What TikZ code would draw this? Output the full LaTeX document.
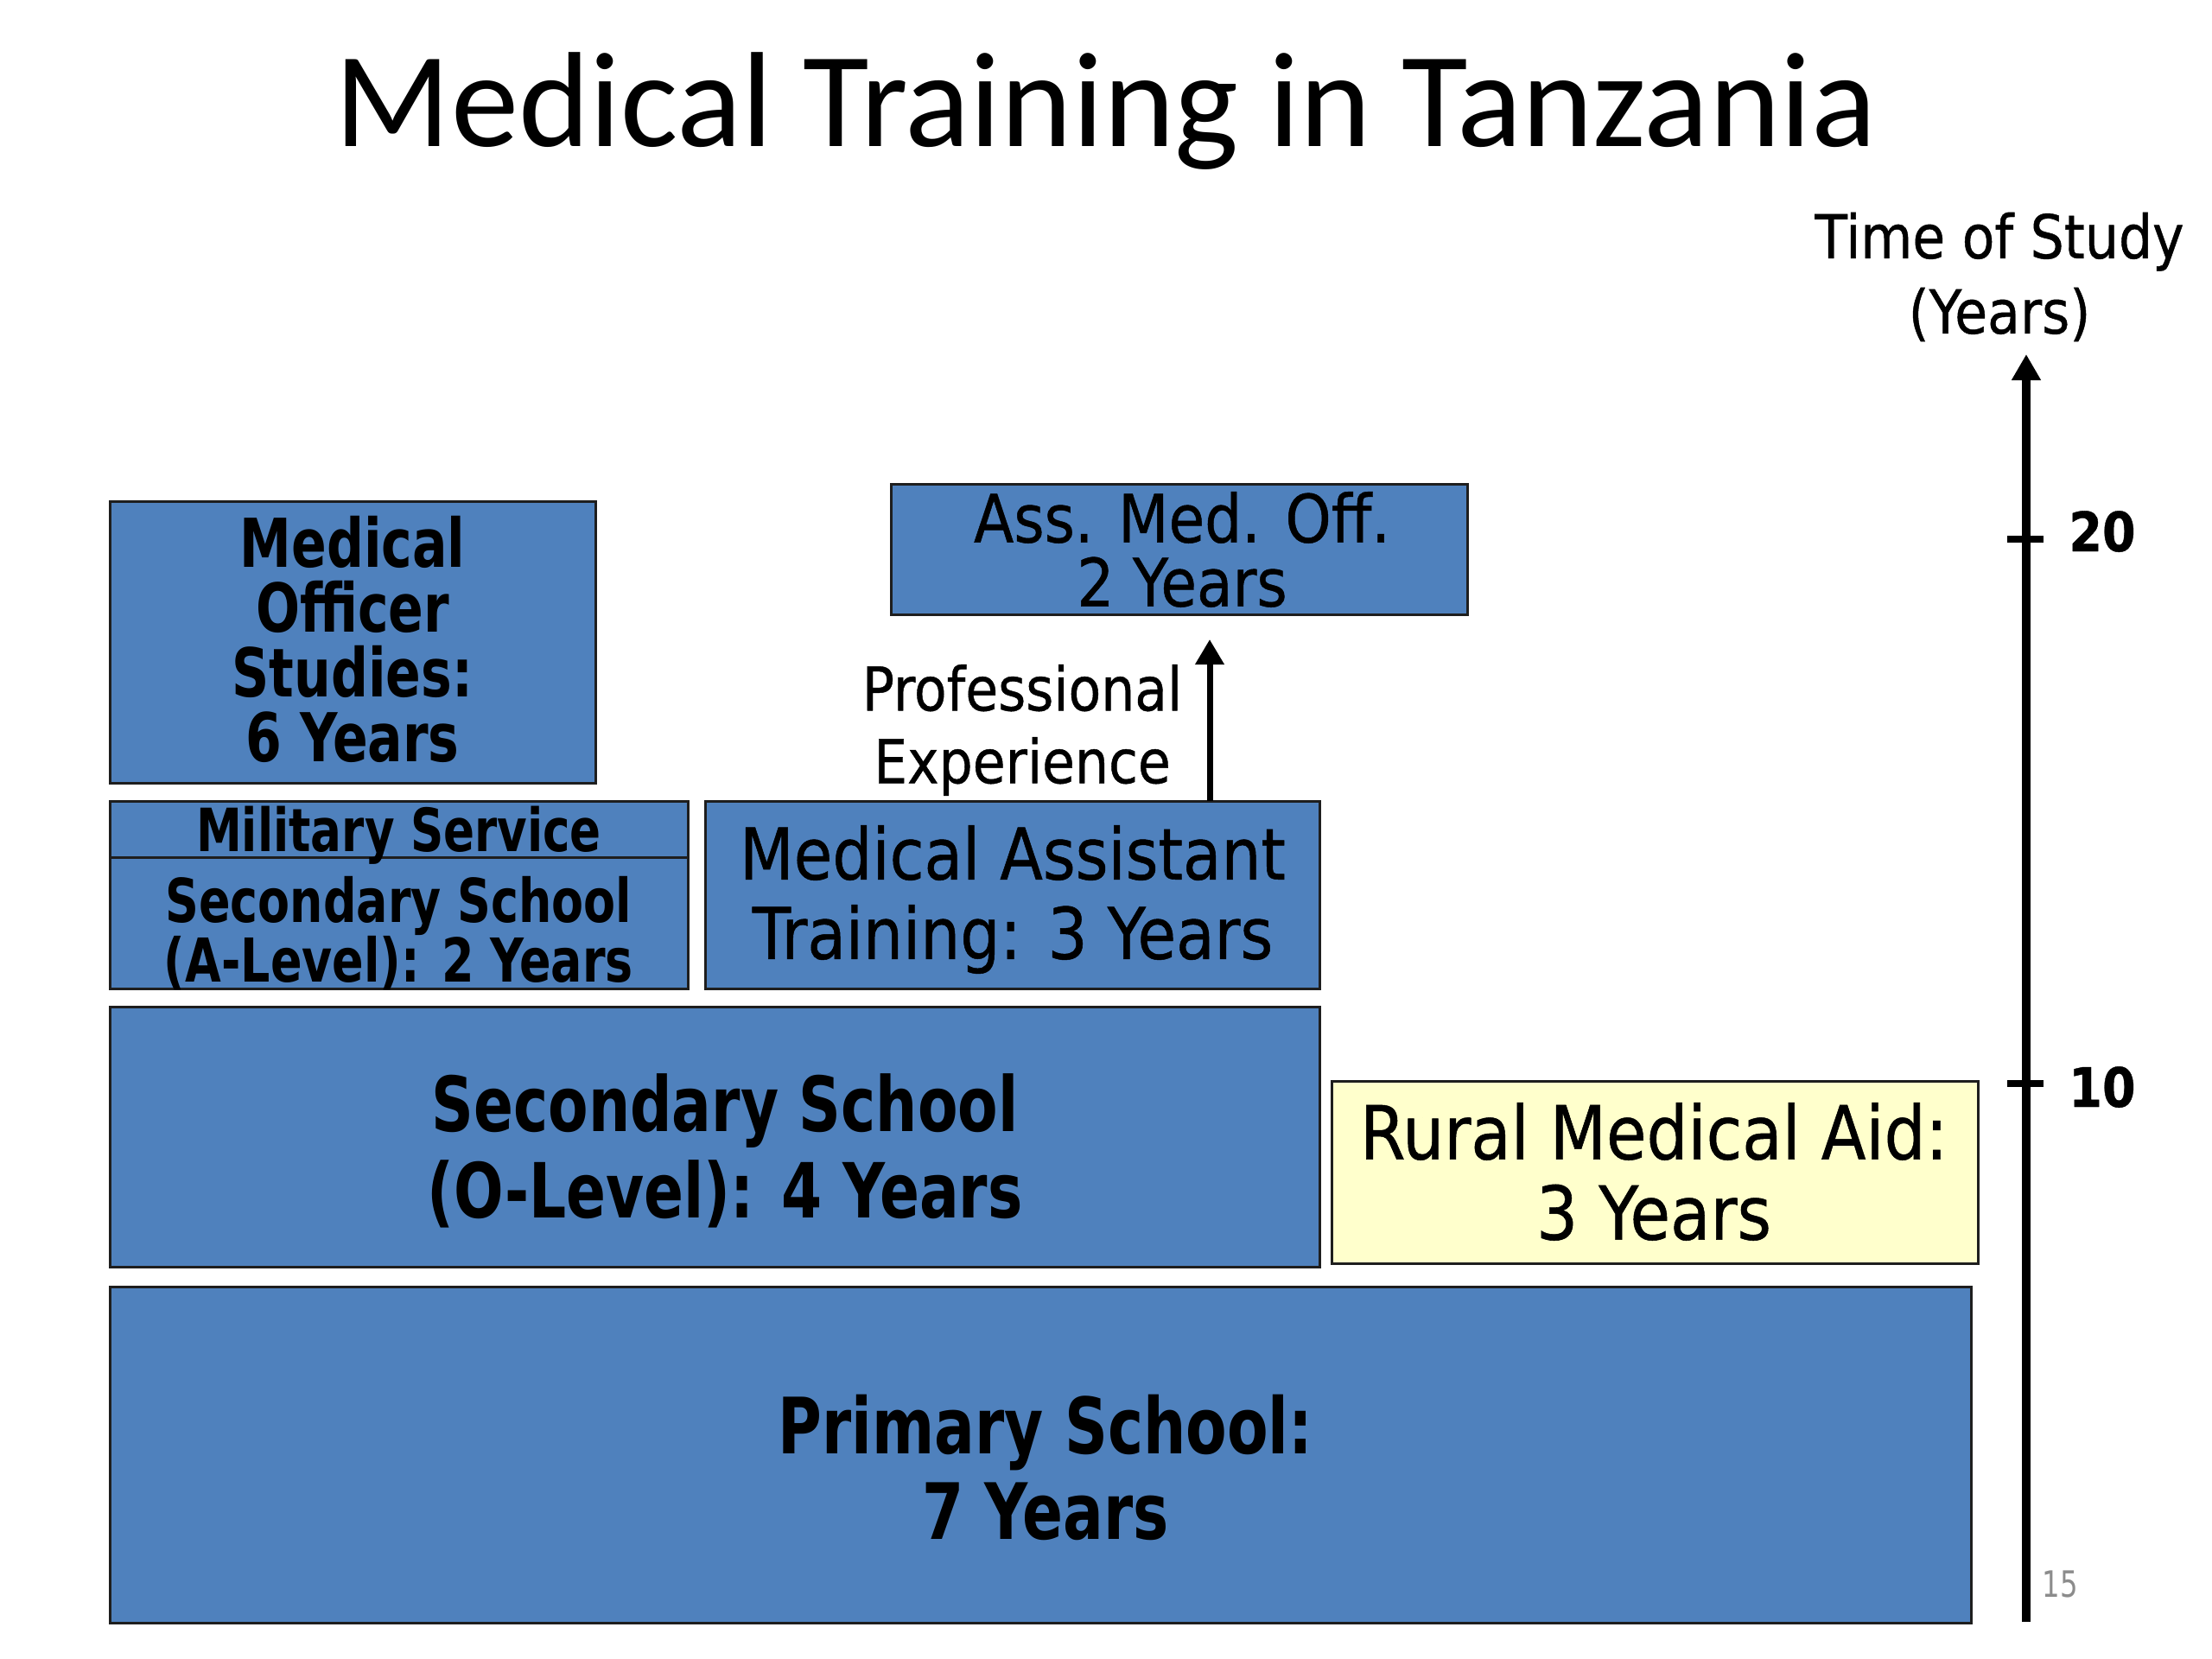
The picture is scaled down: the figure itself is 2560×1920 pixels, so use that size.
\documentclass[tikz,border=0pt]{standalone}
\usepackage{fontspec}
\setmainfont{DejaVu Sans}
\newfontfamily\tah[FakeStretch=0.88,FakeBold=0.6]{DejaVu Sans}
\newfontfamily\tahb[FakeStretch=0.77]{DejaVu Sans}
\newfontfamily\titlefont{Carlito}
\usetikzlibrary{arrows.meta}
\definecolor{boxblue}{HTML}{4F81BD}
\definecolor{paleyellow}{HTML}{FFFFCC}
\definecolor{edgecol}{HTML}{1E1E1E}
\definecolor{pagegrey}{HTML}{8C8C8C}
\begin{document}
\begin{tikzpicture}[x=0.1mm,y=-0.1mm,
  blk/.style={draw=edgecol, line width=0.3mm, fill=boxblue, inner sep=0pt, outer sep=0pt},
  ylw/.style={blk, fill=paleyellow},
  lbl/.style={align=center, inner sep=0pt, outer sep=0pt, text=black},
  single/.style={inner sep=0pt, outer sep=0pt, anchor=base},
  axisline/.style={line width=1mm, -{Triangle[length=3mm,width=3.2mm]}},
  tickline/.style={line width=0.8mm},
  exparrow/.style={line width=0.7mm, -{Triangle[length=2.9mm,width=3.2mm]}}
]
\useasboundingbox (0,0) rectangle (2560,1920);

% title
\node[single, font=\titlefont\fontsize{44.6pt}{50pt}\selectfont] (title) at (1280,169) {Medical Training in Tanzania};

% boxes
\node[blk, minimum width=56.2mm, minimum height=32.6mm] (mo) at (408,743) {};
\node[blk, minimum width=66.9mm, minimum height=6.5mm] (mil) at (461.5,959.5) {};
\node[blk, minimum width=66.9mm, minimum height=15.2mm] (seca) at (461.5,1068) {};
\node[blk, minimum width=71.1mm, minimum height=21.7mm] (mat) at (1171.5,1035.5) {};
\node[blk, minimum width=66.7mm, minimum height=15.1mm] (amo) at (1364.5,635.5) {};
\node[blk, minimum width=140.0mm, minimum height=30.1mm] (seco) at (827,1315.5) {};
\node[ylw, minimum width=74.8mm, minimum height=21.15mm] (rural) at (1915,1357) {};
\node[blk, minimum width=215.4mm, minimum height=38.9mm] (prim) at (1204,1683.5) {};

% box texts
\node[lbl, font=\tahb\bfseries\fontsize{22.19pt}{21.34pt}\selectfont] (motxt) at (408,739.5) {Medical\\Officer\\Studies:\\6 Years};
\node[single, font=\tahb\bfseries\fontsize{19.63pt}{22pt}\selectfont] (miltxt) at (461.5,985) {Military Service};
\node[lbl, font=\tahb\bfseries\fontsize{19.92pt}{19.63pt}\selectfont] (secatxt) at (461.5,1080) {Secondary School\\(A-Level): 2 Years};
\node[lbl, font=\tah\fontsize{23.47pt}{26.18pt}\selectfont] (mattxt) at (1172,1041) {Medical Assistant\\Training: 3 Years};
\node[lbl, font=\tah\fontsize{21.9pt}{21.06pt}\selectfont] (amotxt) at (1368,636) {Ass. Med. Off.\\2 Years};
\node[lbl, font=\tahb\bfseries\fontsize{25.04pt}{28.45pt}\selectfont] (secotxt) at (839,1332) {Secondary School\\(O-Level): 4 Years};
\node[lbl, font=\tah\fontsize{24.47pt}{26.46pt}\selectfont] (ruraltxt) at (1914,1356) {Rural Medical Aid:\\3 Years};
\node[lbl, font=\tahb\bfseries\fontsize{25.61pt}{28.17pt}\selectfont] (primtxt) at (1210,1698) {Primary School:\\7 Years};

% professional experience
\node[lbl, font=\tah\fontsize{19.92pt}{23.9pt}\selectfont] (prof) at (1183,845) {Professional\\Experience};
\coordinate (petip) at (1400,740);
\draw[exparrow] (mat.north -| petip) -- (petip);

% time axis
\coordinate (axbot) at (2345,1877);
\coordinate (axtop) at (2345,410);
\draw[axisline] (axbot) -- (axtop);
\coordinate (t20) at (2345,624);
\coordinate (t10) at (2345,1254);
\draw[tickline] ([xshift=-2.2mm]t20) -- ([xshift=2mm]t20);
\draw[tickline] ([xshift=-2.2mm]t10) -- ([xshift=2mm]t10);
\node[single, font=\tah\bfseries\fontsize{17.93pt}{20pt}\selectfont] (l20) at (2433,638) {20};
\node[single, font=\tah\bfseries\fontsize{17.93pt}{20pt}\selectfont] (l10) at (2433,1281) {10};
\node[lbl, font=\tah\fontsize{19.92pt}{24.75pt}\selectfont] (axlbl) at (2314,320.5) {Time of Study\\(Years)};

% page number
\node[single, font=\tahb\fontsize{11.95pt}{14pt}\selectfont, text=pagegrey] (pg) at (2384,1848) {15};
\end{tikzpicture}
\end{document}
